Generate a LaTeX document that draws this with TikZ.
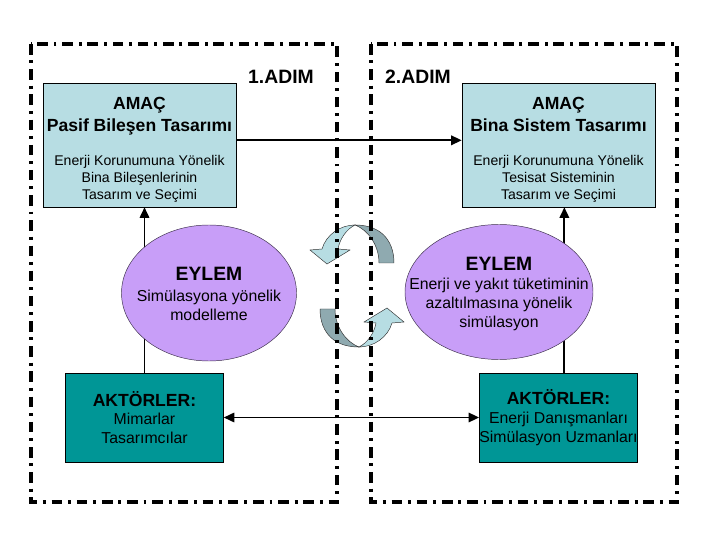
\documentclass[tikz,border=0pt]{standalone}
\usepackage{fontspec}
\setmainfont{Liberation Sans}
\usetikzlibrary{arrows.meta}
\definecolor{goalblue}{RGB}{183,221,227}
\definecolor{actorteal}{RGB}{0,150,150}
\definecolor{actlilac}{RGB}{200,158,248}
\definecolor{turndark}{RGB}{143,170,176}
\newcommand{\headfont}{\bfseries\fontsize{15}{18}\selectfont}
\newcommand{\bigheadfont}{\bfseries\fontsize{16.5}{19}\selectfont}
\newcommand{\stepframe}[4]{\draw[stepline] ( #1 , #2 ) rectangle ( #3 , #4 );}
\newcommand{\actshape}[4]{\filldraw[actfill] ( #1 , #2 ) ellipse [x radius= #3 , y radius= #4 ];}
\newcommand{\turnarrow}[1]{\begin{scope}[#1]
  \filldraw[turnback] (355,225) .. controls (385,225) and (394,245) .. (394,263) -- (379,263) .. controls (379,245) and (368,230) .. (355,225) -- cycle;
  \filldraw[turnfront] (355,225) .. controls (340,225) and (326,235) .. (322,249) -- (310,250) -- (327,264) -- (350,250) -- (338,249) .. controls (340,238) and (347,229) .. (355,225) -- cycle;
  \end{scope}}
\tikzset{
  stepline/.style={line width=2.6pt, dash pattern=on 9pt off 5pt on 2.5pt off 5pt},
  steplabel/.style={font=\bigheadfont},
  goalbox/.style={draw, thin, fill=goalblue, minimum width=5.79cm, minimum height=3.72cm, inner sep=0pt, align=center, font=\fontsize{12}{14.5}\selectfont},
  actfill/.style={draw=black!70!actlilac, thin, fill=actlilac},
  acttext/.style={inner sep=0pt, align=center, font=\fontsize{13.5}{16}\selectfont},
  actorbox/.style={draw, thin, fill=actorteal, minimum width=4.74cm, minimum height=2.67cm, inner sep=0pt, align=center, font=\fontsize{13.5}{16}\selectfont},
  link/.style={line width=1.7pt, -{Triangle[length=9pt,width=8pt]}},
  turnback/.style={fill=turndark, draw=black!80, thin},
  turnfront/.style={fill=goalblue, draw=black!80, thin}
}
\begin{document}
\begin{tikzpicture}[x=0.03cm, y=-0.03cm]
    \useasboundingbox (0,0) rectangle (720,540);
    % turning arrows
    \turnarrow{}
    \turnarrow{rotate around={180:(357,286)}}
    % step frames
    \stepframe{31}{44}{337}{502}
    \stepframe{371}{44}{677}{502}
    \node[steplabel] (step1) at (281,77) {1.ADIM};
    \node[steplabel] (step2) at (418,77) {2.ADIM};
    % goals
    \node[goalbox] (goal1) at (139.5,145) {{}\\[4pt]{\headfont AMAÇ}\\[4.5pt]{\headfont Pasif Bileşen Tasarımı}\\[14pt]Enerji Korunumuna Yönelik\\Bina Bileşenlerinin\\Tasarım ve Seçimi};
    \node[goalbox] (goal2) at (558.5,145) {{}\\[4pt]{\headfont AMAÇ}\\[4.5pt]{\headfont Bina Sistem Tasarımı}\\[14pt]Enerji Korunumuna Yönelik\\Tesisat Sisteminin\\Tasarım ve Seçimi};
    % actors
    \node[actorbox] (actors1) at (144.5,417.5) {{\headfont AKTÖRLER:}\\Mimarlar\\Tasarımcılar};
    \node[actorbox] (actors2) at (558.5,417.5) {{\headfont AKTÖRLER:}\\Enerji Danışmanları\\Simülasyon Uzmanları};
    % links
    \draw[link] (actors1.north) -- (actors1.north |- goal1.south);
    \draw[link] ([xshift=5pt]actors2.north) -- ([xshift=5pt]actors2.north |- goal2.south);
    \draw[link] ([yshift=4pt]goal1.east) -- ([yshift=4pt]goal2.west);
    \draw[link, {Triangle[length=9pt,width=8pt]}-{Triangle[length=9pt,width=8pt]}] (actors1.east) -- (actors2.west);
    % actions
    \actshape{209}{293}{87.5}{68}
    \actshape{499}{292}{94}{67.5}
    \node[acttext] (act1) at (209,294) {{\bigheadfont EYLEM}\\[2pt]Simülasyona yönelik\\modelleme};
    \node[acttext] (act2) at (499,294) {{\bigheadfont EYLEM}\\Enerji ve yakıt tüketiminin\\azaltılmasına yönelik\\simülasyon};
\end{tikzpicture}
\end{document}
